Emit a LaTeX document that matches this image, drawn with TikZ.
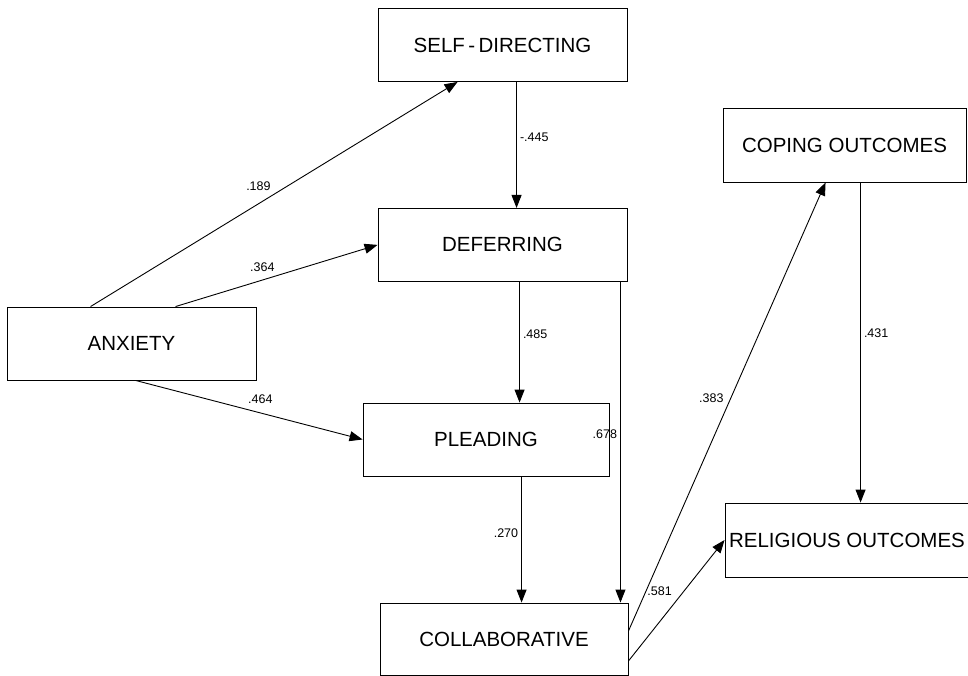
\documentclass[tikz,border=0pt]{standalone}
\usepackage{fontspec}
\setmainfont{Liberation Sans}
\usetikzlibrary{arrows.meta}
\usetikzlibrary{positioning}

\begin{document}
\begin{tikzpicture}[
			x=1pt, y=-1pt,
			>={Triangle[length=13pt,width=10pt]},
			line width=0.9pt,
			box/.style={rectangle, minimum width=249pt, minimum height=73pt, inner sep=0pt, text centered, draw=black, font=\fontsize{20.5}{24}\selectfont},
			coef/.style={font=\fontsize{12.5}{14}\selectfont, inner sep=3pt},
			]
			\useasboundingbox (0,0) rectangle (968,676);
			
			\node[box]         (selfdir)   at (502.5,45)                          {SELF\,-\,DIRECTING};
			\node[box]         (deferring) [below=126pt of selfdir]               {DEFERRING};
			\node[box]         (anxiety)   at (131.5,343.5)                       {ANXIETY};
			\node[box]         (pleading)  at (486,439.5)   [minimum width=246pt] {PLEADING};
			\node[box]         (collab)    at (504,639)     [minimum width=248pt, minimum height=72pt] {COLLABORATIVE};
			\node[box]         (coping)    at (844.5,145)   [minimum width=243pt, minimum height=74pt] {COPING OUTCOMES};
			\node[box]         (religious) at (847,540)     [minimum width=244pt, minimum height=74pt] {RELIGIOUS OUTCOMES};
			
			
			\draw [arrows=->] ([xshift=84pt]anxiety.north west)    --node[coef,pos=0.5,above left]   {.189}   ([xshift=80pt]selfdir.south west);
			\draw [arrows=->] ([xshift=169pt]anxiety.north west)   --node[coef,pos=0.43,above=5pt]   {.364}   (deferring.west);
			\draw [arrows=->] ([xshift=129pt]anxiety.south west)   --node[coef,pos=0.55,above=6pt]   {.464}   (pleading.west);
			\draw [arrows=->] ([xshift=139pt]selfdir.south west)   --node[coef,pos=0.44,right]       {-.445}  ([xshift=139pt]deferring.north west);
			\draw [arrows=->] ([xshift=142pt]deferring.south west) --node[coef,pos=0.43,right]       {.485}   ([xshift=157pt]pleading.north west);
			\draw [arrows=->] ([xshift=-7pt]deferring.south east)  --node[coef,pos=0.475,left]       {.678}   ([xshift=-8pt]collab.north east);
			\draw [arrows=->] ([xshift=159pt]pleading.south west)  --node[coef,pos=0.45,left]        {.270}   ([xshift=142pt]collab.north west);
			\draw [arrows=->] ([yshift=8pt]collab.east)            --node[coef,pos=0.52,left=4pt]    {.383}   ([xshift=103pt]coping.south west);
			\draw [arrows=->] ([yshift=-22pt]collab.east)          --node[coef,pos=0.58,left=9pt]    {.581}   (religious.west);
			\draw [arrows=->] ([xshift=138pt]coping.south west)    --node[coef,pos=0.47,right]       {.431}   ([xshift=136pt]religious.north west);
			
			\end{tikzpicture}
\end{document}
